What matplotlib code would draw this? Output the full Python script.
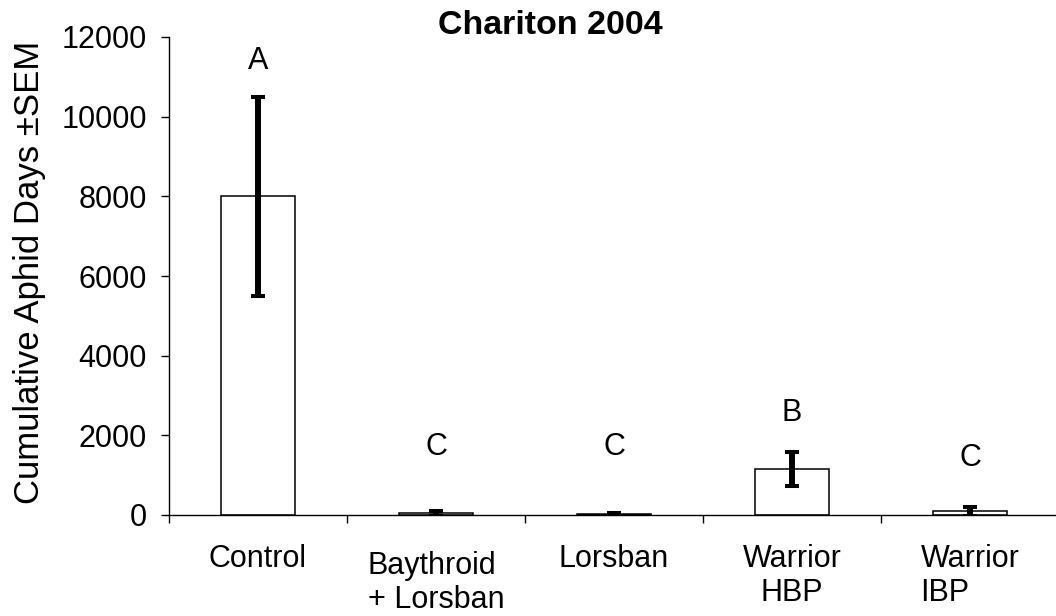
import matplotlib
matplotlib.use("Agg")
import matplotlib.pyplot as plt
from matplotlib.transforms import ScaledTranslation
import numpy as np

categories = ["Control", "Baythroid\n+ Lorsban", "Lorsban", "Warrior\nHBP", "Warrior\nIBP"]
means = [8000, 40, 20, 1150, 90]
sems = [2500, 60, 30, 430, 120]
letters = ["A", "C", "C", "B", "C"]
letter_y = [11400, 1710, 1710, 2560, 1430]
yticks = [0, 2000, 4000, 6000, 8000, 10000, 12000]

plt.rcParams['font.family'] = ['Liberation Sans', 'DejaVu Sans']

fig = plt.figure(figsize=(10.56, 6.16), dpi=100)
ax = fig.add_axes([169/1056, 1 - 515/616, 890/1056, 478/616])

x = np.arange(len(categories))
ax.bar(x, means, width=0.42, color='white', edgecolor='black', linewidth=1.1, zorder=2)
ax.errorbar(x, means, yerr=sems, fmt='none', ecolor='black', elinewidth=4.3,
            capsize=4.7, capthick=2.9, zorder=3)

for xi, lt, ly in zip(x, letters, letter_y):
    ax.text(xi, ly, lt, ha='center', va='center', fontsize=22)

ax.set_xlim(-0.5, len(categories) - 0.5)
ax.set_ylim(0, 12000)
ax.set_yticks(yticks)
ax.set_yticklabels([str(v) for v in yticks], fontsize=22)
ax.tick_params(axis='y', direction='out', length=6, width=1, pad=10)

ax.set_xticks(x)
ax.set_xticklabels(categories, fontsize=22)
ax.tick_params(axis='x', which='major', length=0, pad=21)
ax.set_xticks(np.arange(len(categories) + 1) - 0.5, minor=True)
ax.tick_params(axis='x', which='minor', direction='out', length=6, width=1)

labels = ax.get_xticklabels()
aligns = ['center', 'left', 'center', 'center', 'left']
for lab, al in zip(labels, aligns):
    lab.set_multialignment(al)
    lab.set_linespacing(1.15)
labels[1].set_transform(labels[1].get_transform() + ScaledTranslation(0, -7/100, fig.dpi_scale_trans))

for s in ['top', 'right']:
    ax.spines[s].set_visible(False)
ax.spines['left'].set_linewidth(1)
ax.spines['bottom'].set_linewidth(1)

fig.text(550/1056, 1 - 25/616, "Chariton 2004", ha='center', va='center',
         fontsize=24.5, fontweight='bold')
fig.text(30/1056, 1 - 272/616, "Cumulative Aphid Days ±SEM", rotation=90,
         ha='center', va='center', fontsize=25)

fig.savefig("out.png", dpi=100)
